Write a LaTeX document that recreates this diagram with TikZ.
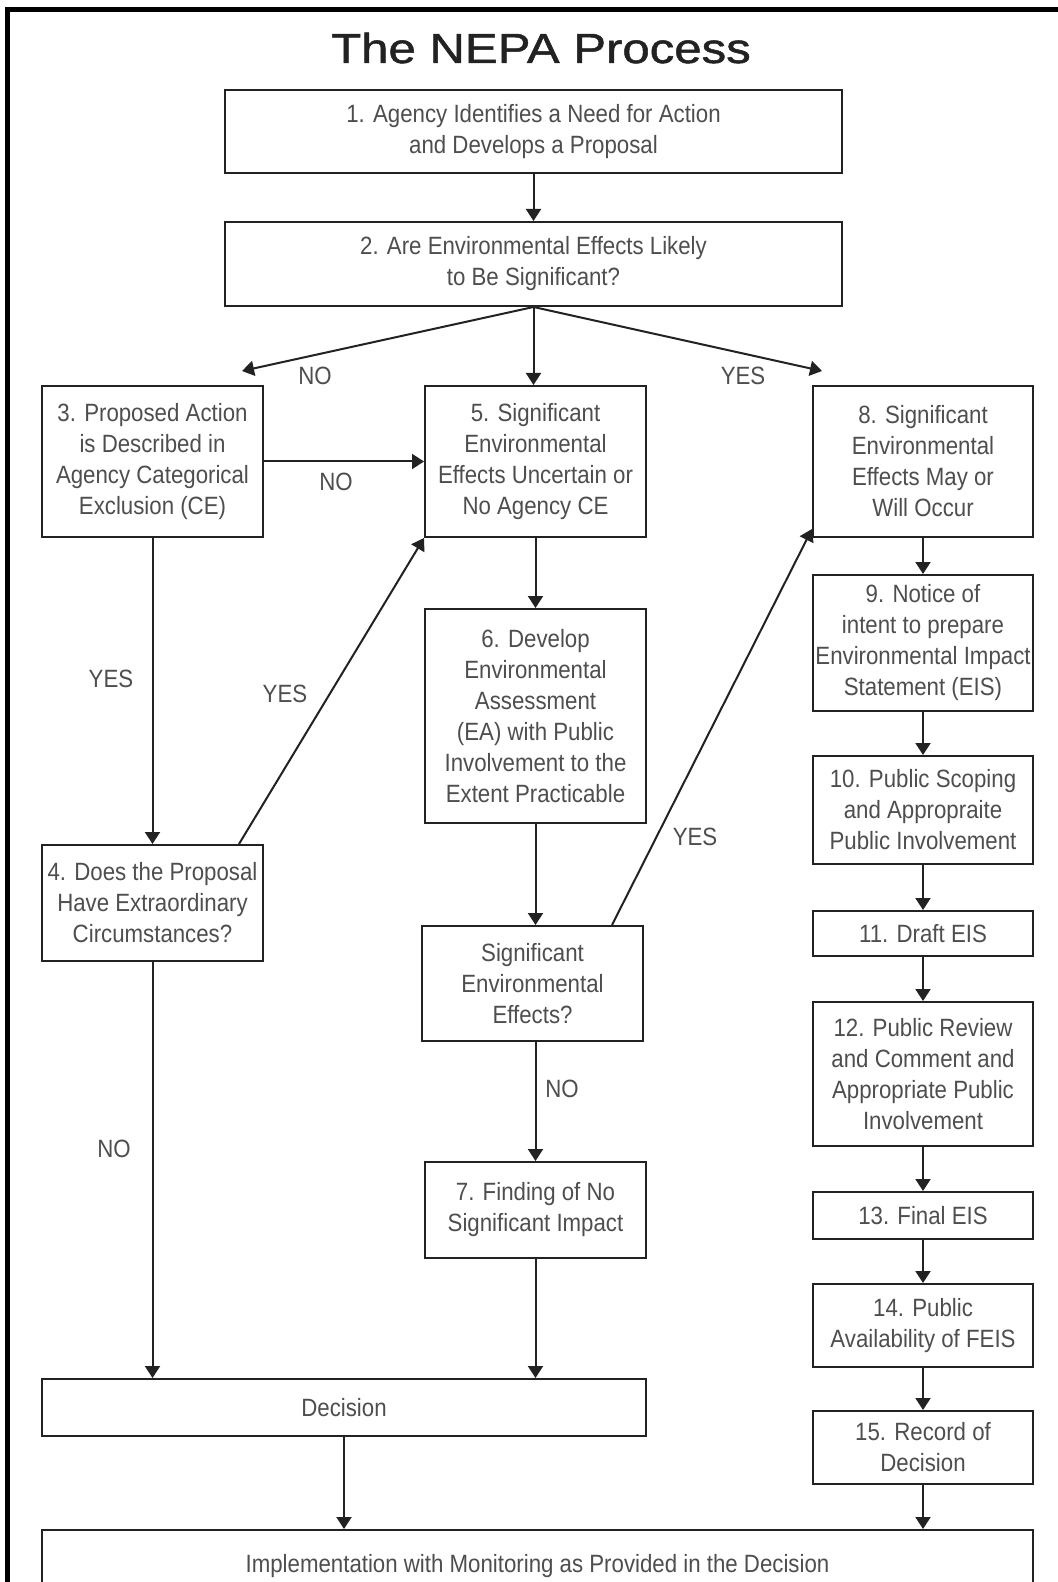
\documentclass[tikz,border=0pt]{standalone}
\usepackage{fontspec}
\setmainfont[FakeStretch=0.89]{Liberation Sans}
\newfontfamily\titlefont[FakeStretch=1.17,FakeBold=1.2]{Liberation Sans}
\usetikzlibrary{arrows.meta,calc}
\definecolor{ink}{RGB}{34,34,34}
\definecolor{txt}{RGB}{78,78,78}
\begin{document}
\begin{tikzpicture}[x=0.5pt,y=-0.5pt,
  box/.style={draw=ink, line width=1pt, fill=white, align=center, inner sep=0pt,
    text=txt, font=\fontsize{12.5pt}{15.5pt}\selectfont},
  sz/.style n args={2}{minimum width=#1*0.5pt, minimum height=#2*0.5pt},
  arr/.style={draw=ink, line width=1pt, -{Triangle[length=6pt,width=7.5pt]}},
  lbl/.style={text=txt, inner sep=0pt, font=\fontsize{12.5pt}{15.5pt}\selectfont}]

% page area and frame
\clip (0,0) rectangle (1058,1582);
\fill[white] (0,0) rectangle (1058,1582);
\draw[line width=2.5pt, black] (7.5,1590) -- (7.5,10) -- (1060,10);

% title
\node[text=ink, inner sep=0pt, anchor=base] (title) at (541,63)
  {\titlefont\fontsize{21pt}{25pt}\selectfont The NEPA Process};

% central column
\node[box, sz={617}{83}] (b1) at (533.5,131.5)
  {1. Agency Identifies a Need for Action\\and Develops a Proposal};
\node[box, sz={617}{84}] (b2) at (533.5,264)
  {2. Are Environmental Effects Likely\\to Be Significant?};
\node[box, sz={221}{151}] (b5) at (535.5,461.5)
  {5. Significant\\Environmental\\Effects Uncertain or\\No Agency CE};
\node[box, sz={221}{214}] (b6) at (535.5,716)
  {6. Develop\\Environmental\\Assessment\\(EA) with Public\\Involvement to the\\Extent Practicable};
\node[box, sz={221}{115}] (sig) at (532.5,983.5)
  {Significant\\Environmental\\Effects?};
\node[box, sz={221}{96}] (b7) at (535.5,1210)
  {7. Finding of No\\Significant Impact};

% left column
\node[box, sz={221}{151}] (b3) at (152.5,461.5)
  {3. Proposed Action\\is Described in\\Agency Categorical\\Exclusion (CE)};
\node[box, sz={221}{116}] (b4) at (152.5,903)
  {4. Does the Proposal\\Have Extraordinary\\Circumstances?};
\node[box, sz={604}{57}] (dec) at (344,1407.5) {Decision};

% right column
\node[box, sz={220}{151}] (b8) at (923,461.5)
  {8. Significant\\Environmental\\Effects May or\\Will Occur};
\node[box, sz={220}{136}] (b9) at (923,643)
  {9. Notice of\\intent to prepare\\Environmental Impact\\Statement (EIS)};
\node[box, sz={220}{108}] (b10) at (923,810)
  {10. Public Scoping\\and Appropraite\\Public Involvement};
\node[box, sz={220}{45}] (b11) at (923,933.5) {11. Draft EIS};
\node[box, sz={220}{144}] (b12) at (923,1074)
  {12. Public Review\\and Comment and\\Appropriate Public\\Involvement};
\node[box, sz={220}{47}] (b13) at (923,1215.5) {13. Final EIS};
\node[box, sz={220}{83}] (b14) at (923,1325.5)
  {14. Public\\Availability of FEIS};
\node[box, sz={220}{73}] (b15) at (923,1447.5)
  {15. Record of\\Decision};

% bottom box, running off the page edge
\node[box, sz={991}{72}] (impl) at (537.5,1566)
  {Implementation with Monitoring as Provided in the Decision};

% free ends of the two branch arrows
\coordinate (noend) at (242,371);
\coordinate (yesend) at (822,371);

% connectors
\draw[arr] (b1.south) -- (b2.north);
\draw[arr] (b2.south) -- (noend);
\draw[arr] (b2.south) -- (b2.south |- b5.north);
\draw[arr] (b2.south) -- (yesend);
\draw[arr] (b3.east) -- (b5.west);
\draw[arr] (b3.south) -- (b4.north);
\draw[arr] ($(b4.north east)+(-25,0)$) -- (b5.south west);
\draw[arr] (b5.south) -- (b6.north);
\draw[arr] (b6.south) -- (b6.south |- sig.north);
\draw[arr] ($(sig.north east)+(-32,0)$) -- ($(b8.south west)+(0,-9)$);
\draw[arr] (b6.south |- sig.south) -- (b7.north);
\draw[arr] (b4.south) -- (b4.south |- dec.north);
\draw[arr] (b7.south) -- (b7.south |- dec.north);
\draw[arr] (dec.south) -- (dec.south |- impl.north);
\draw[arr] (b8.south) -- (b9.north);
\draw[arr] (b9.south) -- (b10.north);
\draw[arr] (b10.south) -- (b11.north);
\draw[arr] (b11.south) -- (b12.north);
\draw[arr] (b12.south) -- (b13.north);
\draw[arr] (b13.south) -- (b14.north);
\draw[arr] (b14.south) -- (b15.north);
\draw[arr] (b15.south) -- (b15.south |- impl.north);

% branch labels
\node[lbl] (l1) at (315,376) {NO};
\node[lbl] (l2) at (743,376) {YES};
\node[lbl] (l3) at (336,482) {NO};
\node[lbl] (l4) at (111,679) {YES};
\node[lbl] (l5) at (285,694) {YES};
\node[lbl] (l6) at (695,837) {YES};
\node[lbl] (l7) at (562,1089) {NO};
\node[lbl] (l8) at (114,1149) {NO};
\end{tikzpicture}
\end{document}
